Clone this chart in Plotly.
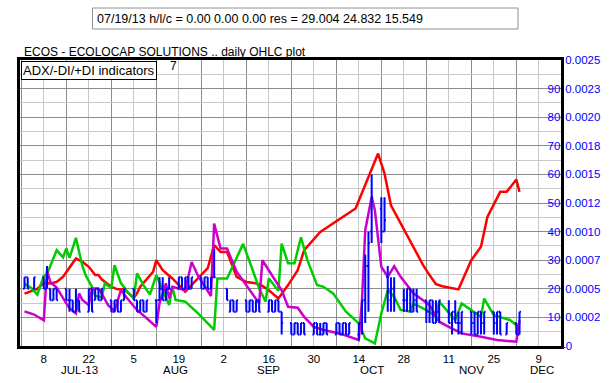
import plotly.graph_objects as go
import pandas as pd

# ---------------- data ----------------
red_dates = ["2013-07-02","2013-07-06","2013-07-08","2013-07-10","2013-07-12","2013-07-14","2013-07-18","2013-07-20",
             "2013-07-22","2013-07-24","2013-07-25","2013-07-26","2013-07-29","2013-07-31","2013-08-02","2013-08-05",
             "2013-08-06","2013-08-07","2013-08-11","2013-08-12","2013-08-14","2013-08-17","2013-08-21","2013-08-25",
             "2013-08-28","2013-08-30","2013-09-01","2013-09-03","2013-09-06","2013-09-09","2013-09-12","2013-09-14",
             "2013-09-16","2013-09-19","2013-09-22","2013-09-25","2013-09-27","2013-10-02","2013-10-04","2013-10-09",
             "2013-10-13","2013-10-20","2013-10-22","2013-10-24","2013-10-29","2013-11-03","2013-11-05","2013-11-07",
             "2013-11-09","2013-11-14","2013-11-18","2013-11-21","2013-11-23","2013-11-27","2013-11-29","2013-12-02",
             "2013-12-03"]
red_vals = [18.3,20.0,22.0,21.9,22.4,24.2,30.6,29.4,
            27.7,24.8,24.8,23.3,20.7,19.8,19.8,16.8,
            18.4,20.7,25.9,30.0,26.5,23.6,19.0,23.6,
            27.2,35.3,32.9,32.9,24.2,22.4,21.9,21.0,
            19.5,16.6,21.3,26.5,33.5,39.9,41.4,45.1,
            48.1,67.3,60.3,49.2,38.7,28.3,24.8,21.6,
            20.9,19.8,30.0,34.7,45.1,53.9,53.9,58.2,
            53.9]

green_dates = ["2013-07-02","2013-07-04","2013-07-06","2013-07-08","2013-07-09","2013-07-12","2013-07-14","2013-07-15",
               "2013-07-16","2013-07-18","2013-07-20","2013-07-21","2013-07-23","2013-07-24","2013-07-26","2013-07-27",
               "2013-07-29","2013-07-30","2013-08-01","2013-08-03","2013-08-05","2013-08-06","2013-08-08","2013-08-10",
               "2013-08-12","2013-08-14","2013-08-16","2013-08-17","2013-08-18","2013-08-21","2013-08-25","2013-08-30",
               "2013-08-31","2013-09-03","2013-09-08","2013-09-11","2013-09-13","2013-09-15","2013-09-16","2013-09-19",
               "2013-09-20","2013-09-22","2013-09-24","2013-09-26","2013-09-28","2013-10-01","2013-10-03","2013-10-06",
               "2013-10-10","2013-10-14","2013-10-16","2013-10-19","2013-10-21","2013-10-23","2013-10-25","2013-10-27",
               "2013-10-30","2013-10-31","2013-11-02","2013-11-05","2013-11-07","2013-11-08","2013-11-13","2013-11-15",
               "2013-11-21","2013-11-22","2013-11-25","2013-11-28","2013-11-30","2013-12-02","2013-12-03"]
green_vals = [21.7,20.4,18.0,24.5,25.1,33.5,31.0,34.1,
              30.8,37.8,28.0,24.8,20.7,17.6,17.0,21.9,
              20.3,28.3,22.0,19.0,16.6,25.4,21.3,18.0,
              24.8,19.5,14.3,20.7,16.1,15.5,11.4,5.6,
              23.6,23.6,35.7,26.5,20.1,15.5,23.6,19.3,
              35.8,28.9,28.9,38.0,30.0,21.3,20.7,18.4,
              12.0,7.9,2.7,0.9,11.4,19.5,17.2,12.6,
              12.0,14.9,13.7,12.0,10.2,15.5,9.1,14.9,
              10.2,16.6,10.8,9.7,9.1,7.3,6.2]

magenta_dates = ["2013-07-02","2013-07-05","2013-07-08","2013-07-09","2013-07-10","2013-07-12","2013-07-15","2013-07-16",
                 "2013-07-18","2013-07-19","2013-07-20","2013-07-22","2013-07-23","2013-07-25","2013-07-26","2013-07-28",
                 "2013-07-30","2013-08-01","2013-08-03","2013-08-06","2013-08-09","2013-08-12","2013-08-13","2013-08-15",
                 "2013-08-16","2013-08-17","2013-08-19","2013-08-21","2013-08-23","2013-08-25","2013-08-29","2013-08-30",
                 "2013-09-01","2013-09-03","2013-09-06","2013-09-10","2013-09-13","2013-09-14","2013-09-16","2013-09-20",
                 "2013-09-22","2013-09-25","2013-09-27","2013-09-30","2013-10-03","2013-10-08","2013-10-14","2013-10-15",
                 "2013-10-16","2013-10-18","2013-10-19","2013-10-20","2013-10-21","2013-10-23","2013-10-25","2013-10-27",
                 "2013-10-31","2013-11-05","2013-11-08","2013-11-11","2013-11-15","2013-11-21","2013-11-26","2013-12-02",
                 "2013-12-03"]
magenta_vals = [12.1,11.0,9.0,26.5,22.4,20.4,14.9,13.2,
                11.4,18.4,16.1,14.3,20.1,20.1,18.4,14.3,
                12.3,19.5,16.6,12.6,9.7,6.7,14.9,21.9,
                16.6,20.7,20.1,19.5,29.4,24.5,17.5,42.8,
                34.1,34.1,26.0,19.8,14.9,30.0,26.5,19.5,
                13.7,13.4,10.2,6.7,5.6,4.4,2.1,16.1,
                40.5,52.1,47.5,37.0,27.7,24.2,27.9,24.2,
                18.4,14.3,8.5,6.7,4.4,3.2,2.1,1.5,
                9.0]

# daily OHLC prices, in units of 0.0001
price_unit = 0.0001
ohlc_open = [5,6,5,
             6,5,5,4,5,  5,4,4,3,4,  3,5,4,5,4,  4,3,4,3,4,  5,4,3,4,3,  4,4,5,4,5,  5,6,5,6,5,  6,5,6,5,6,
             5,3,4,3,
             4,3,4,3,4,  3,4,3,4,3,  2,1,2,1,2,  1,2,1,1,2,  1,2,1,2,1,  1,2,4,7,10,  12,10,6,4,5,  4,4,5,3,4,
             4,3,4,2,3,  3,2,3,2,2,  3,2,1,3,2,
             3,2,3,1,
             2,1]
ohlc_high = [6,6,6,
             6,7,5,5,5,  5,5,4,5,4,  5,5,5,5,5,  4,4,4,4,5,  5,4,4,4,4,  4,6,6,5,6,  6,6,6,6,6,  6,6,6,6,8.5,
             5,4,4,4,
             4,4,4,4,4,  4,4,4,4,3,  2,2,2,2,2,  2,2,2,2,2,  2,2,2,2,2,  2,4,8,10,15,  13,13,7,6,6,  5,5,5,5,5,
             4,4,4,4,4,  4,3,4,3,3,  3,3,3,3,3,
             3,3,3,2,
             2,3]
ohlc_low = [5,5,5,
            5,5,4,4,4,  4,3,3,3,3,  3,3,4,4,4,  3,3,3,3,4,  4,3,3,3,3,  2,4,4,4,5,  5,5,5,5,5,  5,5,5,5,6,
            4,3,3,3,
            3,3,3,3,3,  3,3,3,3,1,  1,1,1,1,1,  1,1,1,1,1,  1,1,1,1,1,  0.5,1,2,3,9,  9,10,3,3,3,  3,3,3,3,3,
            2,2,2,2,2,  2,1,2,1,1,  1,1,1,1,1,
            1,1,1,1,
            1,1]
ohlc_close = [6,5,6,
              5,6,4,5,4,  4,4,3,4,3,  5,3,5,4,5,  3,4,3,4,5,  4,3,4,3,4,  4,5,4,5,5,  6,5,6,5,6,  5,6,5,6,6,
              4,4,3,4,
              3,4,3,4,3,  4,3,4,3,2,  1,2,1,2,1,  2,1,1,2,1,  2,1,2,1,2,  2,4,7,9,13,  10,11,5,5,4,  4,5,3,4,3,
              3,4,2,3,4,  2,3,2,2,3,  2,1,3,2,3,
              2,3,1,2,
              1,3]

holidays = ["2013-07-04", "2013-09-02", "2013-11-28"]
bar_dates = [d for d in pd.bdate_range("2013-07-02", "2013-12-03") if d.strftime("%Y-%m-%d") not in holidays]

month_labels = ["JUL-13", "AUG", "SEP", "OCT", "NOV", "DEC"]
month_label_dates = ["2013-07-19", "2013-08-18", "2013-09-16", "2013-10-18", "2013-11-18", "2013-12-10"]

left_ticks = [10, 20, 30, 40, 50, 60, 70, 80, 90]
right_tick_vals = [0, 0.00025, 0.0005, 0.00075, 0.001, 0.00125, 0.0015, 0.00175, 0.002, 0.00225, 0.0025]
right_tick_text = ["-0", "0.0002", "0.0005", "0.0007", "0.0010", "0.0012", "0.0015", "0.0018", "0.0020", "0.0023", "0.0025"]

header_text = "07/19/13 h/l/c = 0.00 0.00 0.00 res = 29.004 24.832 15.549"
title_text = "ECOS - ECOLOCAP SOLUTIONS .. daily OHLC plot"
indicator_text = "ADX/-DI/+DI indicators"
indicator_period = "7"

# ---------------- figure ----------------
FONT = "Liberation Sans, Arial, sans-serif"
BLUE = "#0000ff"
NBSP = "\u00a0"
fig = go.Figure()

fig.add_trace(go.Ohlc(
    x=bar_dates,
    open=[v * price_unit for v in ohlc_open],
    high=[v * price_unit for v in ohlc_high],
    low=[v * price_unit for v in ohlc_low],
    close=[v * price_unit for v in ohlc_close],
    yaxis="y2", tickwidth=0.45,
    increasing=dict(line=dict(color=BLUE, width=2)),
    decreasing=dict(line=dict(color=BLUE, width=2)),
    showlegend=False, hoverinfo="skip"))

for dates, vals, col in [(red_dates, red_vals, "#ff0000"),
                         (green_dates, green_vals, "#00cc00"),
                         (magenta_dates, magenta_vals, "#cc00cc")]:
    fig.add_trace(go.Scatter(x=dates, y=vals, mode="lines",
                             line=dict(color=col, width=2.5),
                             showlegend=False, hoverinfo="skip"))

DAY = 86400000
right_labels = [t if t.startswith("-") else NBSP + t for t in right_tick_text]
fig.update_layout(
    width=616, height=383,
    margin=dict(l=20, r=55, t=60, b=37, autoexpand=False),
    paper_bgcolor="white", plot_bgcolor="white",
    font=dict(family=FONT, size=12, color="black"),
    hovermode=False,
    xaxis=dict(
        type="date", automargin=False,
        range=["2013-06-30 14:24", "2013-12-15 21:36"],
        tick0="2013-07-08", dtick=14 * DAY, tickformat="%-d",
        ticks="", showgrid=True, gridcolor="#c8c8c8", gridwidth=1,
        minor=dict(tick0="2013-07-01", dtick=7 * DAY, showgrid=True, gridcolor="#8c8c8c", gridwidth=1),
        showline=True, linecolor="black", linewidth=3, mirror=True,
        zeroline=False, rangeslider=dict(visible=False),
        tickfont=dict(size=11.5, color="black"),
    ),
    yaxis=dict(
        range=[0, 100], side="right", ticklabelposition="inside", automargin=False,
        tickvals=left_ticks, ticktext=[str(v) for v in left_ticks],
        tickfont=dict(size=11.5, color=BLUE),
        showgrid=True, gridcolor="#8c8c8c", gridwidth=1,
        minor=dict(dtick=5, showgrid=True, gridcolor="#c8c8c8", gridwidth=1),
        showline=True, linecolor="black", linewidth=3, mirror=True,
        zeroline=False, ticks="",
    ),
    yaxis2=dict(
        overlaying="y", side="right", range=[0, 0.0025], automargin=False,
        tickvals=right_tick_vals, ticktext=right_labels,
        tickfont=dict(size=11.5, color=BLUE),
        showgrid=False, zeroline=False, showline=False,
        ticks="",
    ),
)

# header box
fig.add_shape(type="rect", xref="paper", yref="paper",
              x0=0.134, x1=0.9205, y0=1.1084, y1=1.1818,
              line=dict(color="#909090", width=1), fillcolor="white")
fig.add_annotation(xref="paper", yref="paper", x=0.1386, y=1.145, text=header_text,
                   showarrow=False, xanchor="left", yanchor="middle",
                   font=dict(size=12.5, color="black"))
# title
fig.add_annotation(xref="paper", yref="paper", x=0.003, y=1.028, text=title_text,
                   showarrow=False, xanchor="left", yanchor="middle",
                   font=dict(size=12, color="black"))
# indicator label
fig.add_annotation(xref="paper", yref="paper", x=0.0015, y=0.997, text=indicator_text,
                   showarrow=False, xanchor="left", yanchor="top",
                   bgcolor="white", bordercolor="black", borderwidth=1, borderpad=1,
                   font=dict(size=13, color="black"))
fig.add_annotation(xref="paper", yref="paper", x=0.283, y=0.979, text=indicator_period,
                   showarrow=False, xanchor="center", yanchor="middle",
                   font=dict(size=12, color="black"))
# month labels
for lab, d in zip(month_labels, month_label_dates):
    fig.add_annotation(xref="x", yref="paper", x=d, y=-0.084, text=lab,
                       showarrow=False, xanchor="center", yanchor="middle",
                       font=dict(size=11.5, color="black"))

fig.write_html("out.html", config={"displayModeBar": False, "staticPlot": True},
               post_script="document.body.style.margin='0px';")
